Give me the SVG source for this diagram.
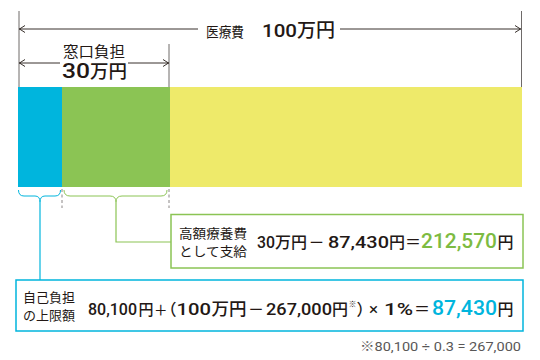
<svg xmlns="http://www.w3.org/2000/svg" width="540" height="360" viewBox="0 0 540 360">
<defs>
<style>
.jp{font-family:"Noto Sans CJK JP",sans-serif;fill:#231815}
.num{font-family:Roboto,"Noto Sans CJK JP",sans-serif;fill:#231815;font-weight:500}
.dim{stroke:#6e6a69;stroke-width:1;fill:none}
.arr{stroke:#231815;stroke-width:0.9;fill:none}
.g{fill:#7dbb42}
.b{fill:#00b5dd}
.p{font-family:"Noto Sans CJK JP",sans-serif;font-feature-settings:"palt"}
</style>
<marker id="ah" viewBox="0 0 6 8" refX="6" refY="4" markerWidth="6" markerHeight="8" orient="auto-start-reverse" markerUnits="userSpaceOnUse">
<path d="M0,0.5 L5.5,4 L0,7.5" stroke="#231815" stroke-width="0.9" fill="none"/>
</marker>
</defs>
<rect width="540" height="360" fill="#fff"/>
<g id="bar">
<rect x="18" y="87" width="44" height="100" fill="#00b5dd"/>
<rect x="62" y="87" width="108" height="100" fill="#8bc454"/>
<rect x="170" y="87" width="352" height="100" fill="#eeea6a"/>
</g>
<g id="dimensions">
<line class="dim" x1="19" y1="11" x2="19" y2="87"/>
<line class="dim" x1="521.5" y1="11" x2="521.5" y2="87"/>
<line class="dim" x1="169" y1="44" x2="169" y2="87"/>
<line class="arr" x1="19" y1="29" x2="198" y2="29" marker-start="url(#ah)"/>
<line class="arr" x1="340" y1="29" x2="521" y2="29" marker-end="url(#ah)"/>
<line class="arr" x1="19" y1="63" x2="60" y2="63" marker-start="url(#ah)"/>
<line class="arr" x1="128" y1="63" x2="169" y2="63" marker-end="url(#ah)"/>
<text x="206" y="37" class="jp" font-size="14" textLength="38" lengthAdjust="spacingAndGlyphs">医療費</text>
<text y="37" class="num" font-size="19"><tspan x="262" textLength="35" lengthAdjust="spacingAndGlyphs">100</tspan><tspan x="297">万円</tspan></text>
<text x="63" y="57" class="jp" font-size="14.5" textLength="62" lengthAdjust="spacingAndGlyphs">窓口負担</text>
<text y="78" class="num" font-size="20"><tspan x="62" textLength="28" lengthAdjust="spacingAndGlyphs">30</tspan><tspan x="90" font-size="18.5">万円</tspan></text>
</g>
<g id="connectors">
<line x1="62" y1="189" x2="62" y2="208" stroke="#8a8686" stroke-width="1" stroke-dasharray="3,2.5"/>
<line x1="169" y1="189" x2="169" y2="208" stroke="#8a8686" stroke-width="1" stroke-dasharray="3,2.5"/>
<path d="M18.5,190 Q18.5,196 24,196 L35,196 Q40,196 40,202 Q40,196 45,196 L55,196 Q60.5,196 60.5,190" stroke="#00b5dd" stroke-width="1" fill="none"/>
<path d="M64,190 Q64,196 70,196 L110,196 Q116,196 116,202 Q116,196 122,196 L161,196 Q167,196 167,190" stroke="#8bc454" stroke-width="1" fill="none"/>
<path d="M40,202 L40,280" stroke="#00b5dd" stroke-width="1.2" fill="none"/>
<path d="M116,202 L116,242 L171,242" stroke="#8bc454" stroke-width="1.2" fill="none"/>
</g>
<g id="benefit">
<rect x="171" y="214.5" width="352" height="53.5" fill="#fff" stroke="#8bc454" stroke-width="1.5"/>
<text x="179" y="238" class="jp" font-size="13" textLength="68" lengthAdjust="spacingAndGlyphs">高額療養費</text>
<text x="179" y="256" class="jp" font-size="13" textLength="68" lengthAdjust="spacingAndGlyphs">として支給</text>
<text y="248" class="num" font-size="17"><tspan x="257" font-size="16" textLength="18" lengthAdjust="spacingAndGlyphs">30</tspan><tspan x="275" font-size="16">万円</tspan><tspan x="308.5" font-size="16">－</tspan><tspan x="328" textLength="61" lengthAdjust="spacingAndGlyphs">87,430</tspan><tspan x="389" font-size="16">円</tspan><tspan x="405" font-size="16">＝</tspan><tspan x="421" class="g" font-size="20" textLength="76" lengthAdjust="spacingAndGlyphs">212,570</tspan><tspan x="497.5" font-size="16">円</tspan></text>
</g>
<g id="limit">
<rect x="16" y="280" width="507" height="51" fill="#fff" stroke="#00b5dd" stroke-width="1.5"/>
<text x="23" y="302" class="jp" font-size="13">自己負担</text>
<text x="23" y="320" class="jp" font-size="13">の上限額</text>
<text y="315" class="num" font-size="17"><tspan x="88" font-size="16" textLength="49" lengthAdjust="spacingAndGlyphs">80,100</tspan><tspan x="138.5" font-size="15">円</tspan><tspan x="154" font-size="13.5">＋</tspan><tspan x="168" class="p" font-size="16">（</tspan><tspan x="176.5" textLength="34.5" lengthAdjust="spacingAndGlyphs">100</tspan><tspan x="211.5" font-size="17.5">万円</tspan><tspan x="248" font-size="16">－</tspan><tspan x="266" textLength="66" lengthAdjust="spacingAndGlyphs">267,000</tspan><tspan x="332" font-size="16">円</tspan><tspan x="348.5" y="307" font-size="8">※</tspan><tspan x="357" y="315" class="p" font-size="16">）</tspan><tspan x="369" font-weight="400">×</tspan><tspan x="384" textLength="29" lengthAdjust="spacingAndGlyphs">1%</tspan><tspan x="414" font-size="16">＝</tspan><tspan x="432" class="b" font-size="20" textLength="65" lengthAdjust="spacingAndGlyphs">87,430</tspan><tspan x="497.5" font-size="16">円</tspan></text>
</g>
<text x="360" y="351" font-family="Roboto,'Noto Sans CJK JP',sans-serif" font-size="12" fill="#595757" textLength="161" lengthAdjust="spacingAndGlyphs">※80,100 ÷ 0.3 = 267,000</text>
</svg>
